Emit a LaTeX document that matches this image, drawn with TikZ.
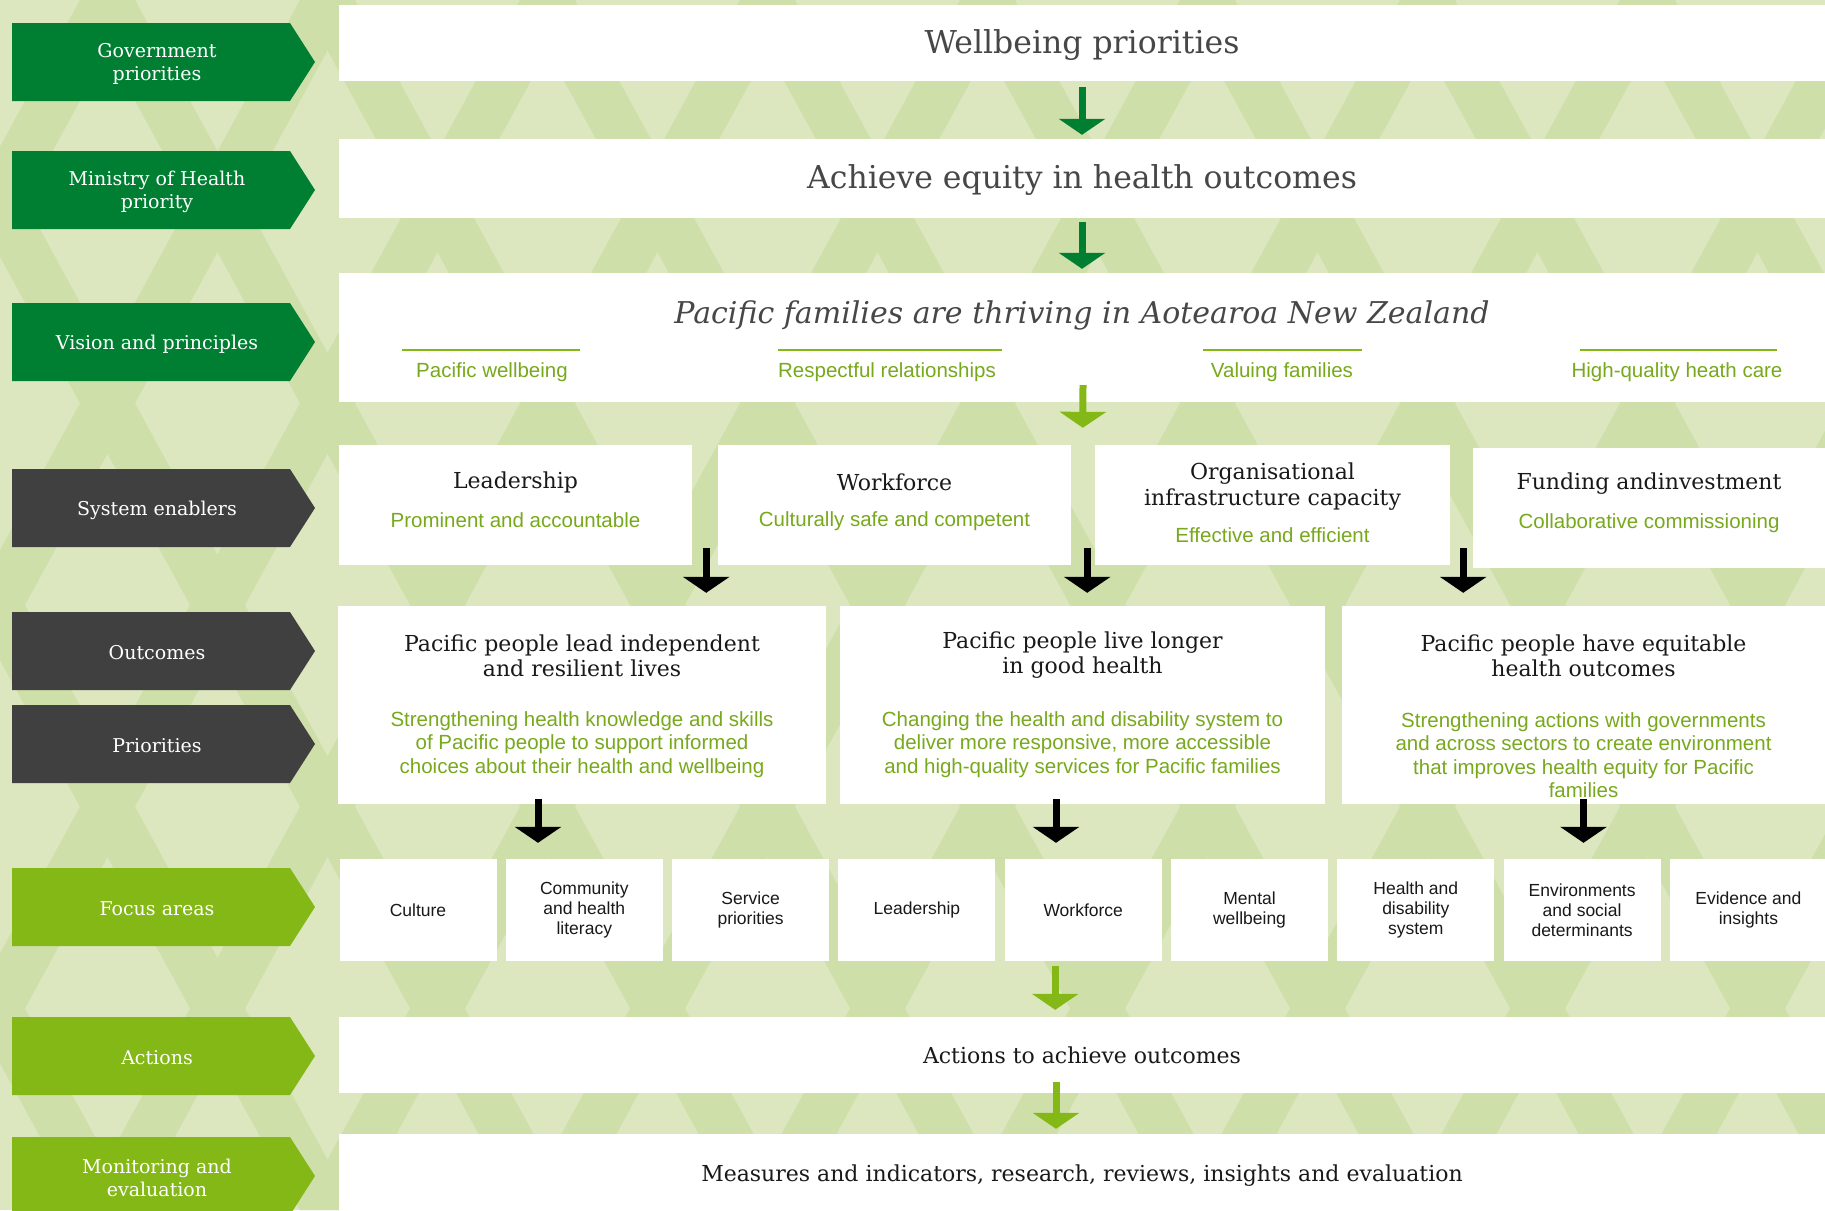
\documentclass[tikz,border=0pt]{standalone}
\usepackage{fontspec}
\setmainfont{DejaVu Serif}
\newfontfamily\sansf{Liberation Sans}
\usetikzlibrary{arrows.meta}

\definecolor{dgreen}{HTML}{007F33}
\definecolor{dgray}{HTML}{404040}
\definecolor{lgreen}{HTML}{84B816}
\definecolor{tgreen}{HTML}{78A91C}
\definecolor{tgray}{HTML}{474747}
\definecolor{bglight}{HTML}{DCE7BF}
\definecolor{bgdark}{HTML}{CFDFAA}

\tikzset{
  box/.style={fill=white, inner sep=0pt},
  tag/.style={text=white, align=center, font=\fontsize{19}{23}\selectfont},
  head/.style={text=tgray, text height=23pt, text depth=2.5pt, font=\fontsize{31.5}{38}\selectfont},
  ttl/.style={text=black!90, align=center, font=\fontsize{22}{26}\selectfont},
  sub/.style={text=tgreen, align=center, font=\sansf\fontsize{20.5}{24}\selectfont},
  body/.style={text=tgreen, align=center, font=\sansf\fontsize{20.5}{23.5}\selectfont},
  foc/.style={box, minimum width=157pt, minimum height=102pt, align=center,
    text=black!90, font=\sansf\fontsize{17.5}{20}\selectfont},
  pline/.style={lgreen, line width=2pt},
  darr/.style={dgreen, line width=7pt, -{Triangle[width=46pt,length=16pt]}},
  larr/.style={lgreen, line width=7pt, -{Triangle[width=46pt,length=16pt]}},
  karr/.style={black, line width=7pt, -{Triangle[width=46pt,length=16pt]}}
}

\begin{document}
\begin{tikzpicture}[x=1pt,y=-1pt]
	\useasboundingbox (0,0) rectangle (1825,1210);
	% background
	\fill[bglight] (0,0) rectangle (1825,1210);
	\begin{scope}
		\clip (0,0) rectangle (1825,1210);
		\foreach \x in {-800,-580,...,2700} {
			\fill[bgdark] (\x,0) -- ++(55,0) -- ++(660,1210) -- ++(-55,0) -- cycle;
			\fill[bgdark] (\x,0) -- ++(55,0) -- ++(-660,1210) -- ++(-55,0) -- cycle;
		}
	\end{scope}

	% row tags
	\foreach \y/\c/\t [count=\i] in {23/dgreen/{Government\\priorities}, 151/dgreen/{Ministry of Health\\priority},
		303/dgreen/{Vision and principles}, 469/dgray/{System enablers}, 612/dgray/{Outcomes},
		705/dgray/{Priorities}, 868/lgreen/{Focus areas}, 1017/lgreen/{Actions},
		1137/lgreen/{Monitoring and\\evaluation}} {
		\fill[\c] (12,\y) -- (290,\y) -- (315,\y+39) -- (290,\y+78) -- (12,\y+78) -- cycle;
		\node[tag] (tag\i) at (157,\y+41) {\t};
	}

	% top rows
	\node[box, minimum width=1486pt, minimum height=76pt, head] (wb) at (1082,43) {Wellbeing priorities};
	\node[box, minimum width=1486pt, minimum height=79pt, head] (eq) at (1082,178.5) {Achieve equity in health outcomes};
	\node[box, minimum width=1486pt, minimum height=129pt] (vis) at (1082,337.5) {};
	\node[head, font=\itshape\fontsize{30}{36}\selectfont] (vt) at (1082,313) {Pacific families are thriving in Aotearoa New Zealand};
	\draw[pline] (402,350) -- (580,350);
	\draw[pline] (778,350) -- (1002,350);
	\draw[pline] (1203,350) -- (1362,350);
	\draw[pline] (1580,350) -- (1777,350);
	\node[sub] (p1) at (492,372) {Pacific wellbeing};
	\node[sub] (p2) at (887,372) {Respectful relationships};
	\node[sub] (p3) at (1282,372) {Valuing families};
	\node[sub] (p4) at (1677,372) {High-quality heath care};

	% system enablers
	\node[box, minimum width=353pt, minimum height=120pt] (lead) at (515.5,505) {};
	\node[box, minimum width=353pt, minimum height=120pt] (wf) at (894.5,505) {};
	\node[box, minimum width=355pt, minimum height=120pt] (org) at (1272.5,505) {};
	\node[box, minimum width=352pt, minimum height=120pt] (fund) at (1649,508) {};
	\node[ttl] (et1) at (515.5,482) {Leadership};
	\node[sub] (es1) at (515.5,520) {Prominent and accountable};
	\node[ttl] (et2) at (894.5,482) {Workforce};
	\node[sub] (es2) at (894.5,521) {Culturally safe and competent};
	\node[ttl] (et3) at (1272.5,486.5) {Organisational\\infrastructure capacity};
	\node[sub] (es3) at (1272.5,535) {Effective and efficient};
	\node[ttl] (et4) at (1649,484) {Funding andinvestment};
	\node[sub] (es4) at (1649,523) {Collaborative commissioning};

	% outcomes and priorities
	\node[box, minimum width=488pt, minimum height=198pt] (o1) at (582,705) {};
	\node[box, minimum width=485pt, minimum height=198pt] (o2) at (1082.5,705) {};
	\node[box, minimum width=483pt, minimum height=198pt] (o3) at (1583.5,705) {};
	\node[ttl, font=\fontsize{22}{25}\selectfont] (ot1) at (582,655.5) {Pacific people lead independent\\and resilient lives};
	\node[ttl, font=\fontsize{22}{25}\selectfont] (ot2) at (1082.5,655.5) {Pacific people live longer\\in good health};
	\node[ttl, font=\fontsize{22}{25}\selectfont] (ot3) at (1583.5,655.5) {Pacific people have equitable\\health outcomes};
	\node[body] (ob1) at (582,744.5) {Strengthening health knowledge and skills\\of Pacific people to support informed\\choices about their health and wellbeing};
	\node[body] (ob2) at (1082.5,744.5) {Changing the health and disability system to\\deliver more responsive, more accessible\\and high-quality services for Pacific families};
	\node[body] (ob3) at (1583.5,755) {Strengthening actions with governments\\and across sectors to create environment\\that improves health equity for Pacific\\families};

	% focus areas
	\foreach \t [count=\i] in {Culture, {Community\\and health\\literacy}, {Service\\priorities}, Leadership,
		Workforce, {Mental\\wellbeing}, {Health and\\disability\\system}, {Environments\\and social\\determinants},
		{Evidence and\\insights}}
		\node[foc] (f\i) at ({418+(\i-1)*166.3},910) {\t};

	% actions, monitoring
	\node[box, minimum width=1486pt, minimum height=76pt, ttl] (act) at (1082,1055) {Actions to achieve outcomes};
	\node[box, minimum width=1486pt, minimum height=84pt, ttl] (mon) at (1082,1176) {Measures and indicators, research, reviews, insights and evaluation};

	% arrows
	\draw[darr] ([shift={(0,6)}]wb.south) -- ([shift={(0,-4)}]eq.north);
	\draw[darr] ([shift={(0,4)}]eq.south) -- ([shift={(0,-4)}]vis.north);
	\draw[larr] ([shift={(1,-17)}]vis.south) -- ([shift={(-12,-17)}]org.north west);
	\draw[karr] ([shift={(14,-17)}]lead.south east) -- ([shift={(14,-13)}]lead.east |- o1.north);
	\draw[karr] ([shift={(16,-17)}]wf.south east) -- ([shift={(16,-13)}]wf.east |- o2.north);
	\draw[karr] ([shift={(13,-17)}]org.south east) -- ([shift={(13,-13)}]org.east |- o3.north);
	\draw[karr] ([shift={(-44,-5)}]o1.south) -- ([shift={(-44,-16)}]o1.south |- f2.north);
	\draw[karr] ([shift={(-26.5,-5)}]o2.south) -- ([shift={(-26.5,-16)}]o2.south |- f5.north);
	\draw[karr] ([shift={(0,-5)}]o3.south) -- ([shift={(0,-16)}]o3.south |- f8.north);
	\draw[larr] ([shift={(-28,5)}]f5.south) -- ([shift={(-28,-7)}]f5.south |- act.north);
	\draw[larr] ([shift={(-26,-11)}]act.south) -- ([shift={(-26,-5)}]act.south |- mon.north);
\end{tikzpicture}
\end{document}
